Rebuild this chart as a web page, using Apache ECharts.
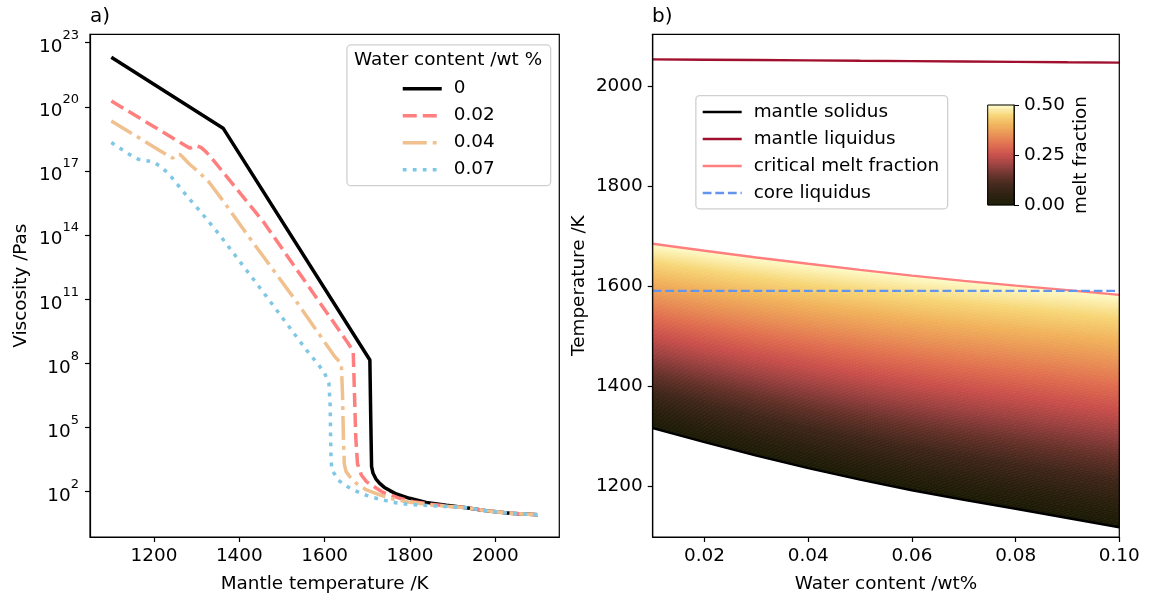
<!DOCTYPE html>
<html><head><meta charset="utf-8">
<script src="https://cdn.jsdelivr.net/npm/echarts@6/dist/echarts.min.js"></script>
<style>html,body{margin:0;padding:0;background:#fff}#c{width:1151px;height:601px}</style>
</head><body><div id="c"></div>
<script>
// ---------- Panel a) data: mantle temperature (K) and log10 viscosity (Pa s) ----------
const temp0 = [1100, 1362, 1706, 1708, 1710, 1713.5, 1720, 1729, 1740, 1753, 1768, 1799, 1838, 1885, 1932, 1979, 2034, 2100];
const logVisc0 = [22.32, 19.0, 8.16, 5.5, 3.17, 2.86, 2.6, 2.39, 2.2, 2.05, 1.89, 1.69, 1.5, 1.36, 1.25, 1.11, 0.99, 0.92];

const temp002 = [1100, 1200, 1284, 1292, 1300, 1310, 1320, 1331, 1386, 1456, 1557, 1655, 1667, 1670, 1673, 1677, 1686, 1698, 1710, 1737, 1776, 1807, 1850, 1900, 1932, 1979, 2034, 2100];
const logVisc002 = [20.27, 19.07, 18.06, 18.15, 18.17, 18.1, 17.93, 17.7, 16.35, 14.63, 11.75, 8.94, 8.55, 6.5, 4.5, 3.3, 2.78, 2.47, 2.31, 1.96, 1.69, 1.53, 1.41, 1.3, 1.25, 1.11, 0.99, 0.92];

const temp004 = [1100, 1237, 1244, 1252, 1262, 1284, 1305, 1330, 1362, 1423, 1530, 1624, 1639, 1642, 1644, 1646, 1650, 1659, 1674, 1698, 1729, 1760, 1800, 1850, 1900, 1932, 1979, 2034, 2100];
const logVisc004 = [19.34, 17.67, 17.6, 17.78, 17.76, 17.3, 16.95, 16.45, 15.6, 13.9, 11.0, 8.31, 8.0, 6.5, 4.5, 3.3, 2.95, 2.7, 2.39, 2.08, 1.85, 1.66, 1.5, 1.38, 1.3, 1.25, 1.11, 0.99, 0.92];

const temp007 = [1100, 1144, 1163, 1179, 1198, 1218, 1237, 1276, 1308, 1354, 1464, 1557, 1585, 1600, 1610, 1613, 1614, 1615, 1617, 1624, 1631, 1654, 1667, 1690, 1715, 1760, 1799, 1850, 1900, 1932, 1979, 2034, 2100];
const logVisc007 = [18.33, 17.75, 17.55, 17.49, 17.43, 17.17, 16.81, 15.85, 15.12, 14.0, 11.12, 8.63, 7.95, 7.54, 7.07, 6.0, 4.5, 3.48, 3.0, 2.8, 2.55, 2.23, 2.08, 1.88, 1.72, 1.5, 1.4, 1.34, 1.29, 1.25, 1.11, 0.99, 0.92];

const waterLabels = ['0', '0.02', '0.04', '0.07'];
const viscTickExponents = [2, 5, 8, 11, 14, 17, 20, 23];
const tempTicksA = [1200, 1400, 1600, 1800, 2000];

// ---------- Panel b) data: water content (wt%) and temperatures (K) ----------
const waterContent = [0.01, 0.02, 0.03, 0.04, 0.05, 0.06, 0.07, 0.08, 0.09, 0.10];
const mantleSolidus = [1317, 1289, 1262, 1237, 1214, 1193, 1174, 1156, 1137.5, 1119];
const mantleLiquidus = [2053.2, 2052.5, 2051.8, 2051.1, 2050.3, 2049.6, 2048.9, 2048.2, 2047.4, 2046.7];
const criticalMelt = [1685, 1671, 1657.5, 1645, 1633, 1621.5, 1611, 1601.5, 1592.5, 1583];
const coreLiquidus = [1591, 1591, 1591, 1591, 1591, 1591, 1591, 1591, 1591, 1591];
const waterTicks = [0.02, 0.04, 0.06, 0.08, 0.10];
const tempTicksB = [1200, 1400, 1600, 1800, 2000];
const criticalMeltFraction = 0.5;

// colormap (dark -> red -> yellow -> pale)
const cmapStops = [
  [0.0, '#1a1a04'], [0.1, '#2a1f0d'], [0.2, '#3f2619'], [0.3, '#653129'],
  [0.4, '#98403f'], [0.5, '#c84e4b'], [0.6, '#df6b4f'], [0.7, '#e98f55'],
  [0.8, '#f1b25b'], [0.9, '#f7d677'], [1.0, '#fefccb']
];
function hex(h){return [parseInt(h.substr(1,2),16),parseInt(h.substr(3,2),16),parseInt(h.substr(5,2),16)];}
function cmap(t){
  t = Math.max(0, Math.min(1, t));
  for (let i = 1; i < cmapStops.length; i++) {
    if (t <= cmapStops[i][0]) {
      const a = cmapStops[i-1], b = cmapStops[i];
      const u = (t - a[0]) / (b[0] - a[0]);
      const ca = hex(a[1]), cb = hex(b[1]);
      return 'rgb(' + ca.map((v, j) => Math.round(v + (cb[j] - v) * u)).join(',') + ')';
    }
  }
  return cmapStops[cmapStops.length-1][1];
}

const FONT = 'DejaVu Sans';
const FS = 18.4;
const pair = (xs, ys) => xs.map((x, i) => [x, ys[i]]);
const NB = 140;
const bands = Array.from({length: NB}, (_, k) => ({value: [0.05, 1500, k]}));
const cbBands = Array.from({length: NB}, (_, k) => ({value: [0.5, 0.25, k]}));

const tickStyle = {show: true, inside: false, length: 5, lineStyle: {color: '#000', width: 1.2}};
const lblStyle = {color: '#000', fontFamily: FONT, fontSize: FS};
const nameStyle = {color: '#000', fontFamily: FONT, fontSize: FS};
const gridCommon = {show: true, borderColor: '#000', borderWidth: 1.2, backgroundColor: 'transparent', z: 6};
const legendText = {color: '#000', fontFamily: FONT, fontSize: FS, padding: [0, 0, 0, 7]};
const LWA = 3.5, LWB = 2.4;

const chart = echarts.init(document.getElementById('c'), null, {renderer: 'canvas'});
const option = {
  animation: false,
  backgroundColor: '#fff',
  textStyle: {fontFamily: FONT},
  title: [
    {text: 'a)', left: 90, top: 7, padding: 0, textStyle: {fontFamily: FONT, fontSize: 20, fontWeight: 'normal', color: '#000'}},
    {text: 'b)', left: 652, top: 7, padding: 0, textStyle: {fontFamily: FONT, fontSize: 20, fontWeight: 'normal', color: '#000'}}
  ],
  grid: [
    Object.assign({left: 90, top: 34.3, width: 469.3, height: 502.7}, gridCommon),
    Object.assign({left: 652.7, top: 34.3, width: 466.6, height: 502.7}, gridCommon),
    Object.assign({left: 987.7, top: 105, width: 26.3, height: 100}, gridCommon, {borderWidth: 1})
  ],
  xAxis: [
    {gridIndex: 0, type: 'value', min: 1050, max: 2150,
     name: 'Mantle temperature /K', nameLocation: 'middle', nameGap: 38, nameTextStyle: nameStyle,
     axisLine: {show: true, onZero: false, lineStyle: {color: '#000', width: 1.2}},
     axisTick: Object.assign({customValues: tempTicksA}, tickStyle),
     axisLabel: Object.assign({customValues: tempTicksA, margin: 10, formatter: v => String(v)}, lblStyle),
     splitLine: {show: false}},
    {gridIndex: 1, type: 'value', min: 0.01, max: 0.10,
     name: 'Water content /wt%', nameLocation: 'middle', nameGap: 38, nameTextStyle: nameStyle,
     axisLine: {show: true, onZero: false, lineStyle: {color: '#000', width: 1.2}},
     axisTick: Object.assign({customValues: waterTicks}, tickStyle),
     axisLabel: Object.assign({customValues: waterTicks, margin: 10, formatter: v => v.toFixed(2)}, lblStyle),
     splitLine: {show: false}},
    {gridIndex: 2, type: 'value', min: 0, max: 1, show: false}
  ],
  yAxis: [
    {gridIndex: 0, type: 'value', min: -0.12, max: 23.39,
     name: 'Viscosity /Pas', nameLocation: 'middle', nameGap: 60, nameRotate: 90, nameTextStyle: nameStyle,
     axisLine: {show: true, onZero: false, lineStyle: {color: '#000', width: 1.2}},
     axisTick: Object.assign({customValues: viscTickExponents}, tickStyle),
     axisLabel: {customValues: viscTickExponents, margin: 11, color: '#000',
       formatter: v => '{b|10}{s|' + Math.round(v) + '}',
       rich: {b: {fontFamily: FONT, fontSize: FS, color: '#000', lineHeight: 27, verticalAlign: 'bottom'},
              s: {fontFamily: FONT, fontSize: 13, color: '#000', lineHeight: 15, verticalAlign: 'top'}}},
     splitLine: {show: false}},
    {gridIndex: 1, type: 'value', min: 1099.6, max: 2103.2,
     name: 'Temperature /K', nameLocation: 'middle', nameGap: 64, nameRotate: 90, nameTextStyle: nameStyle,
     axisLine: {show: true, onZero: false, lineStyle: {color: '#000', width: 1.2}},
     axisTick: Object.assign({customValues: tempTicksB}, tickStyle),
     axisLabel: Object.assign({customValues: tempTicksB, margin: 10, formatter: v => String(v)}, lblStyle),
     splitLine: {show: false}},
    {gridIndex: 2, type: 'value', min: 0, max: 0.5, interval: 0.25, position: 'right',
     name: 'melt fraction', nameLocation: 'middle', nameGap: 58, nameRotate: 90, nameTextStyle: nameStyle,
     axisLine: {show: true, onZero: false, lineStyle: {color: '#000', width: 1}},
     axisTick: Object.assign({}, tickStyle, {lineStyle: {color: '#000', width: 1}}),
     axisLabel: Object.assign({margin: 10, formatter: v => v.toFixed(2)}, lblStyle),
     splitLine: {show: false}}
  ],
  legend: [
    {data: waterLabels, orient: 'vertical', left: 401, top: 79.7, itemWidth: 39, itemHeight: 14, itemGap: 9,
     padding: 0, selectedMode: false, itemStyle: {opacity: 0}, lineStyle: {width: 'inherit'}, textStyle: legendText},
    {data: ['mantle solidus', 'mantle liquidus', 'critical melt fraction', 'core liquidus'], orient: 'vertical',
     left: 701.5, top: 103, itemWidth: 39, itemHeight: 14, itemGap: 9, padding: 0, selectedMode: false,
     itemStyle: {opacity: 0}, lineStyle: {width: 'inherit'}, textStyle: legendText}
  ],
  graphic: [
    {type: 'rect', left: 346.3, top: 44.3, z: 1, shape: {width: 203.7, height: 140.7, r: 4},
     style: {fill: 'rgba(255,255,255,0.8)', stroke: '#d0d0d0', lineWidth: 1.3}},
    {type: 'text', x: 448, y: 60, z: 2, style: {text: 'Water content /wt %', font: FS + 'px "DejaVu Sans"', fill: '#000', align: 'center', verticalAlign: 'middle'}},
    {type: 'rect', left: 695.2, top: 95, z: 1, shape: {width: 251.8, height: 113.3, r: 4},
     style: {fill: 'rgba(255,255,255,0.8)', stroke: '#d0d0d0', lineWidth: 1.3}}
  ],
  series: [
    {name: '0', type: 'line', xAxisIndex: 0, yAxisIndex: 0, data: pair(temp0, logVisc0), symbol: 'none', z: 3,
     itemStyle: {color: '#000000'}, lineStyle: {color: '#000000', width: LWA}},
    {name: '0.02', type: 'line', xAxisIndex: 0, yAxisIndex: 0, data: pair(temp002, logVisc002), symbol: 'none', z: 3,
     itemStyle: {color: '#ff7f7f'}, lineStyle: {color: '#ff7f7f', width: LWA, type: [14, 6], cap: 'butt'}},
    {name: '0.04', type: 'line', xAxisIndex: 0, yAxisIndex: 0, data: pair(temp004, logVisc004), symbol: 'none', z: 3,
     itemStyle: {color: '#f0c08f'}, lineStyle: {color: '#f0c08f', width: LWA, type: [24, 6, 3.8, 6], cap: 'butt'}},
    {name: '0.07', type: 'line', xAxisIndex: 0, yAxisIndex: 0, data: pair(temp007, logVisc007), symbol: 'none', z: 3,
     itemStyle: {color: '#7fc7e5'}, lineStyle: {color: '#7fc7e5', width: LWA, type: [3.8, 6.2], cap: 'butt'}},

    {name: 'melt', type: 'custom', xAxisIndex: 1, yAxisIndex: 1, data: bands, clip: true, silent: true, z: 1,
     renderItem: function (params, api) {
       const k = api.value(2);
       const f0 = k / NB, f1 = (k + 1) / NB;
       const top = [], bot = [];
       for (let i = 0; i < waterContent.length; i++) {
         const ts = mantleSolidus[i], tc = criticalMelt[i];
         top.push(api.coord([waterContent[i], ts + f1 * (tc - ts)]));
         bot.push(api.coord([waterContent[i], ts + f0 * (tc - ts)]));
       }
       const c = cmap((k + 0.5) / NB);
       return {type: 'polygon', shape: {points: top.concat(bot.reverse())}, style: {fill: c, stroke: c, lineWidth: 0.8}};
     }},
    {name: 'mantle solidus', type: 'line', xAxisIndex: 1, yAxisIndex: 1, data: pair(waterContent, mantleSolidus), symbol: 'none', z: 4,
     itemStyle: {color: '#000000'}, lineStyle: {color: '#000000', width: LWB}},
    {name: 'mantle liquidus', type: 'line', xAxisIndex: 1, yAxisIndex: 1, data: pair(waterContent, mantleLiquidus), symbol: 'none', z: 4,
     itemStyle: {color: '#a0102e'}, lineStyle: {color: '#a0102e', width: LWB}},
    {name: 'critical melt fraction', type: 'line', xAxisIndex: 1, yAxisIndex: 1, data: pair(waterContent, criticalMelt), symbol: 'none', z: 4,
     itemStyle: {color: '#ff7f7f'}, lineStyle: {color: '#ff7f7f', width: LWB}},
    {name: 'core liquidus', type: 'line', xAxisIndex: 1, yAxisIndex: 1, data: pair(waterContent, coreLiquidus), symbol: 'none', z: 4,
     itemStyle: {color: '#6495ed'}, lineStyle: {color: '#6495ed', width: LWB, type: [8.8, 3.8], cap: 'butt'}},

    {name: 'colorbar', type: 'custom', xAxisIndex: 2, yAxisIndex: 2, data: cbBands, silent: true, z: 2,
     renderItem: function (params, api) {
       const k = api.value(2);
       const p0 = api.coord([0, criticalMeltFraction * k / NB]);
       const p1 = api.coord([1, criticalMeltFraction * (k + 1) / NB]);
       const c = cmap((k + 0.5) / NB);
       return {type: 'rect', shape: {x: p0[0], y: p1[1], width: p1[0] - p0[0], height: p0[1] - p1[1]},
               style: {fill: c, stroke: c, lineWidth: 0.6}};
     }}
  ]
};
chart.setOption(option);
</script>
</body></html>
